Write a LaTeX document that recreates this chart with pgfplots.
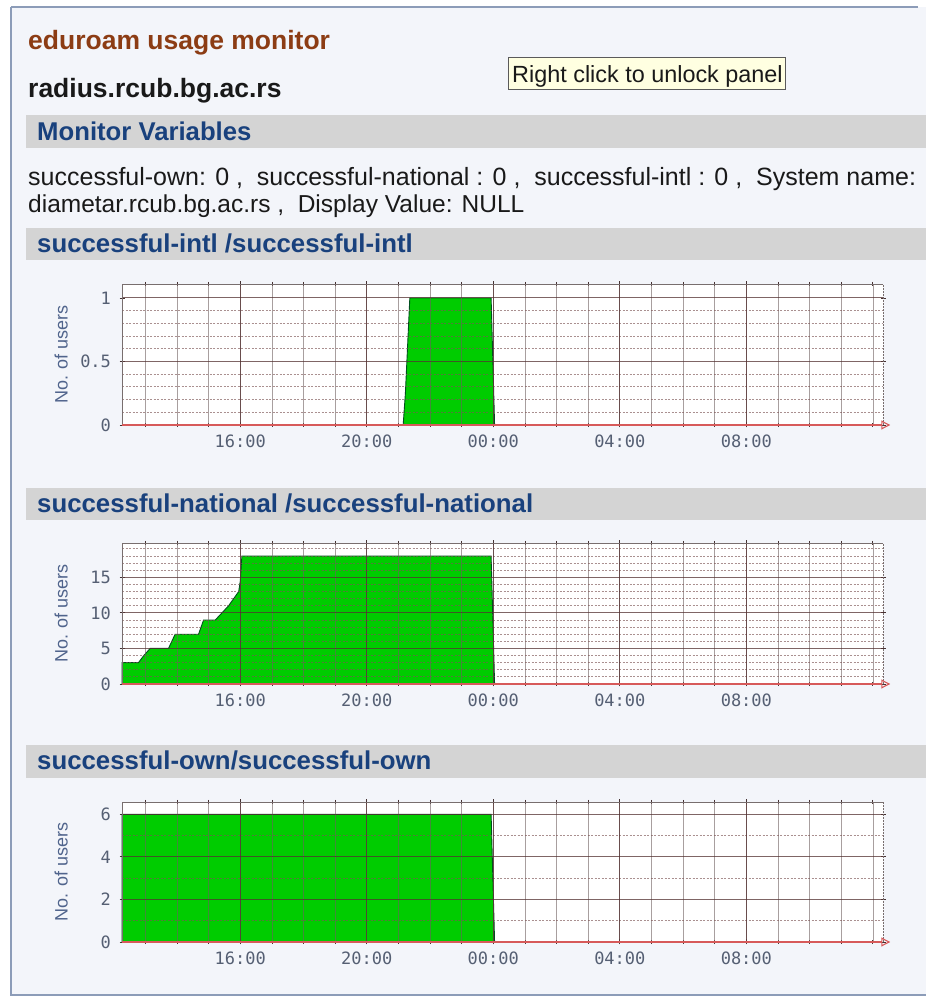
\documentclass[border=0pt]{standalone}
\usepackage{fontspec}
\setmainfont{Liberation Sans}
\newfontfamily\monofont{DejaVu Sans Mono}
\usepackage{pgfplots}
\pgfplotsset{compat=1.18}
\usetikzlibrary{arrows.meta}

\definecolor{panelbg}{RGB}{243,245,250}
\definecolor{bordercol}{RGB}{140,156,184}
\definecolor{barbg}{RGB}{212,212,212}
\definecolor{headblue}{RGB}{25,65,125}
\definecolor{titlebrown}{RGB}{140,60,20}
\definecolor{bodytext}{RGB}{25,25,25}
\definecolor{tipbg}{RGB}{255,255,225}
\definecolor{tipborder}{RGB}{90,90,90}
\definecolor{plotgreen}{RGB}{0,204,0}
\definecolor{plotedge}{RGB}{0,80,30}
\definecolor{labelcol}{RGB}{85,95,115}
\definecolor{ylabcol}{RGB}{80,100,140}
\definecolor{gridminor}{RGB}{110,95,95}
\definecolor{gridhminor}{RGB}{125,85,85}
\definecolor{gridmajor}{RGB}{85,50,50}
\definecolor{framegrey}{RGB}{120,110,110}
\definecolor{axisred}{RGB}{215,90,90}
\definecolor{tickcol}{RGB}{70,50,50}

\tikzset{
  gvmin/.style={draw=gridminor, line width=0.7pt, opacity=0.6},
  ghmin/.style={draw=gridhminor, line width=0.8pt, opacity=0.65, dash pattern=on 2pt off 1.5pt},
  gmaj/.style={draw=gridmajor, line width=1pt, opacity=0.75},
}

\newcommand\rrdgrid[3]{%
  \pgfplotsinvokeforeach{13,...,36}{\draw[gvmin] (axis cs:##1,0) -- (axis cs:##1,#1);}
  \pgfplotsinvokeforeach{#2}{\draw[ghmin] (axis cs:12.26,##1) -- (axis cs:36.32,##1);}
  \pgfplotsinvokeforeach{16,20,24,28,32}{\draw[gmaj] (axis cs:##1,0) -- (axis cs:##1,#1);}
  \pgfplotsinvokeforeach{#3}{\draw[gmaj] (axis cs:12.26,##1) -- (axis cs:36.32,##1);}
  \draw[framegrey, line width=0.9pt] (axis cs:12.26,#1) -- (axis cs:36.32,#1);
  \draw[framegrey, line width=0.9pt] (axis cs:12.26,0) -- (axis cs:12.26,#1);
  \draw[framegrey, line width=0.9pt, dash pattern=on 1.5pt off 1.5pt] (axis cs:36.32,0) -- (axis cs:36.32,#1);
  \draw[axisred, line width=1.1pt, -{Triangle[open,length=9pt,width=9pt]}] (axis cs:12.26,0) -- (axis cs:36.55,0);
}

\pgfplotsset{
  rrd/.style={
    scale only axis, width=761pt,
    xmin=12.26, xmax=36.32, ymin=0,
    axis line style={draw=none},
    axis background/.style={fill=white},
    clip=false,
    xtick={16,20,24,28,32},
    xticklabels={16:00,20:00,00:00,04:00,08:00},
    minor xtick={13,14,...,36},
    tick align=center,
    major tick length=5pt, minor tick length=4pt,
    tick style={line width=0.8pt, draw=tickcol},
    xticklabel style={font=\monofont\fontsize{17}{20}\selectfont, text=labelcol, yshift=-4pt},
    yticklabel style={font=\monofont\fontsize{17}{20}\selectfont, text=labelcol, xshift=-5pt},
    ylabel={No. of users},
    every axis y label/.style={at={(axis description cs:-0.080,0.5)}, rotate=90, anchor=center},
    ylabel style={font=\fontsize{18}{20}\selectfont, text=ylabcol},
  },
}

\begin{document}
\begin{tikzpicture}
% page
\fill[white] (0pt,0pt) rectangle (926pt,999pt);
% panel
\fill[panelbg] (11pt,4pt) rectangle (926pt,992pt);
\draw[bordercol, line width=2.5pt] (11pt,992pt) -- (11pt,4pt) -- (926pt,4pt);
\draw[bordercol, line width=2pt] (11pt,992pt) -- (918pt,992pt);

% titles
\node[anchor=base west, inner sep=0pt, font=\bfseries\fontsize{26.5}{30}\selectfont, text=titlebrown] at (28pt,949pt) {eduroam usage monitor};
\node[anchor=base west, inner sep=0pt, font=\bfseries\fontsize{26.5}{30}\selectfont, text=bodytext] at (28pt,901pt) {radius.rcub.bg.ac.rs};

% tooltip
\draw[tipborder, fill=tipbg, line width=1pt] (508pt,909pt) rectangle (785pt,941pt);
\node[anchor=base west, inner sep=0pt, font=\fontsize{23.4}{28}\selectfont, text=bodytext] at (512pt,916pt) {Right click to unlock panel};

% Monitor variables bar
\fill[barbg] (26pt,851pt) rectangle (926pt,884pt);
\node[anchor=base west, inner sep=0pt, font=\bfseries\fontsize{25.7}{30}\selectfont, text=headblue] at (37pt,858pt) {Monitor Variables};

\node[anchor=base west, inner sep=0pt, font=\fontsize{25}{30}\selectfont, text=bodytext] at (28pt,813pt) {successful-own: 0 ,\ \ successful-national : 0 ,\ \ successful-intl : 0 ,\ \ System name:};
\node[anchor=base west, inner sep=0pt, font=\fontsize{24.5}{30}\selectfont, text=bodytext] at (28pt,786pt) {diametar.rcub.bg.ac.rs ,\ \ Display Value: NULL};

% section bars
\fill[barbg] (26pt,739pt) rectangle (926pt,771pt);
\node[anchor=base west, inner sep=0pt, font=\bfseries\fontsize{25.8}{30}\selectfont, text=headblue] at (37pt,746pt) {successful-intl /successful-intl};
\fill[barbg] (26pt,479pt) rectangle (926pt,511pt);
\node[anchor=base west, inner sep=0pt, font=\bfseries\fontsize{25.8}{30}\selectfont, text=headblue] at (37pt,486pt) {successful-national /successful-national};
\fill[barbg] (26pt,221pt) rectangle (926pt,254pt);
\node[anchor=base west, inner sep=0pt, font=\bfseries\fontsize{25.8}{30}\selectfont, text=headblue] at (37pt,229pt) {successful-own/successful-own};

% chart 1: successful-intl
\begin{axis}[rrd, at={(122pt,574pt)}, anchor=south west, height=141pt,
  ymax=1.11, ytick={0,0.5,1}, yticklabels={0,0.5,1}]
\addplot[fill=plotgreen, draw=plotedge, line width=0.9pt] coordinates {
  (12.26,0) (21.15,0) (21.22,0.25) (21.36,1) (23.93,1) (24.04,0)
} \closedcycle;
\rrdgrid{1.11}{0.1,0.2,0.3,0.4,0.6,0.7,0.8,0.9}{0.5,1}
\end{axis}

% chart 2: successful-national
\begin{axis}[rrd, at={(122pt,315pt)}, anchor=south west, height=141pt,
  ymax=19.83, ytick={0,5,10,15}, yticklabels={0,5,10,15}]
\addplot[fill=plotgreen, draw=plotedge, line width=0.9pt] coordinates {
  (12.26,3) (12.78,3) (12.95,4) (13.15,5) (13.73,5) (13.94,7) (14.68,7)
  (14.84,9) (15.21,9) (15.42,10) (15.63,11) (15.79,12) (15.95,13) (16.0,14.5)
  (16.05,18) (23.93,18) (24.04,0)
} \closedcycle;
\rrdgrid{19.83}{1,2,3,4,6,7,8,9,11,12,13,14,16,17,18,19}{5,10,15}
\end{axis}

% chart 3: successful-own
\begin{axis}[rrd, at={(122pt,57pt)}, anchor=south west, height=140pt,
  ymax=6.58, ytick={0,2,4,6}, yticklabels={0,2,4,6}]
\addplot[fill=plotgreen, draw=plotedge, line width=0.9pt] coordinates {
  (12.26,6) (23.93,6) (24.04,0)
} \closedcycle;
\rrdgrid{6.58}{1,3,5}{2,4,6}
\end{axis}
\end{tikzpicture}
\end{document}
